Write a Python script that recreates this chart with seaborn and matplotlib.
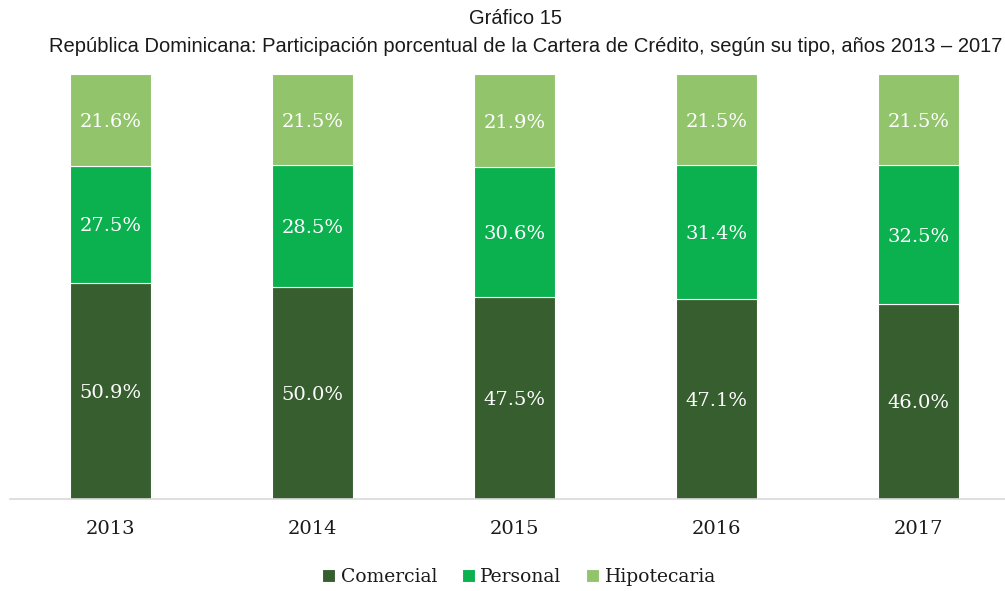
import numpy as np
import pandas as pd
import matplotlib
matplotlib.use("Agg")
import matplotlib.pyplot as plt
import seaborn as sns

# -------------------
# Data
years = ["2013", "2014", "2015", "2016", "2017"]
comercial = [50.9, 50.0, 47.5, 47.1, 46.0]
personal = [27.5, 28.5, 30.6, 31.4, 32.5]
hipotecaria = [21.6, 21.5, 21.9, 21.5, 21.5]

series_names = ["Comercial", "Personal", "Hipotecaria"]
colors = ["#375E2E", "#0BB04F", "#92C46C"]

df = pd.DataFrame({"year": years, "Comercial": comercial,
                   "Personal": personal, "Hipotecaria": hipotecaria})

sns.set_style("white")
serif = ["DejaVu Serif"]
sans = ["Liberation Sans", "DejaVu Sans"]
txt_color = "#1A1A1A"

fig = plt.figure(figsize=(10.05, 5.91), dpi=100)
ax = fig.add_axes([9.5 / 1005, 92 / 591, 1010 / 1005, 425 / 591])

# -------------------
# Stacked bars
bottom = np.zeros(len(years))
for name, col in zip(series_names, colors):
    sns.barplot(data=df, x="year", y=name, color=col, width=0.4,
                bottom=bottom, edgecolor="white", linewidth=0.8,
                label=name, ax=ax, saturation=1)
    vals = df[name].values
    for i, v in enumerate(vals):
        ax.text(i, bottom[i] + v / 2 - 0.5, f"{v:.1f}%", ha="center", va="center",
                color="white", fontsize=14, family=serif)
    bottom = bottom + vals

ax.set_ylim(0, 100)
ax.set_xlim(-0.5, 4.5)
ax.set_yticks([])
ax.set_xlabel("")
ax.set_ylabel("")
for s in ["top", "left", "right"]:
    ax.spines[s].set_visible(False)
ax.spines["bottom"].set_color("#D9D9D9")
ax.spines["bottom"].set_linewidth(1.2)
ax.tick_params(axis="x", length=0, pad=15)
for lab in ax.get_xticklabels():
    lab.set_family(serif)
    lab.set_fontsize(14)
    lab.set_color(txt_color)

# -------------------
# Title
fig.text(515 / 1005, 1 - 18 / 591, "Gráfico 15", ha="center", va="center",
         fontsize=14.5, family=sans, color=txt_color)
fig.text(526 / 1005, 1 - 46 / 591,
         "República Dominicana: Participación porcentual de la Cartera de Crédito, según su tipo, años 2013 – 2017",
         ha="center", va="center", fontsize=14.5, family=sans, color=txt_color)

leg = ax.legend(loc="center", bbox_to_anchor=(519 / 1005, 14 / 591),
                bbox_transform=fig.transFigure, ncol=3, frameon=False,
                prop={"family": serif, "size": 13.5}, handlelength=0.7,
                handleheight=0.7, handletextpad=0.3, columnspacing=1.3)
for t in leg.get_texts():
    t.set_color(txt_color)

fig.savefig("out.png", dpi=100)
